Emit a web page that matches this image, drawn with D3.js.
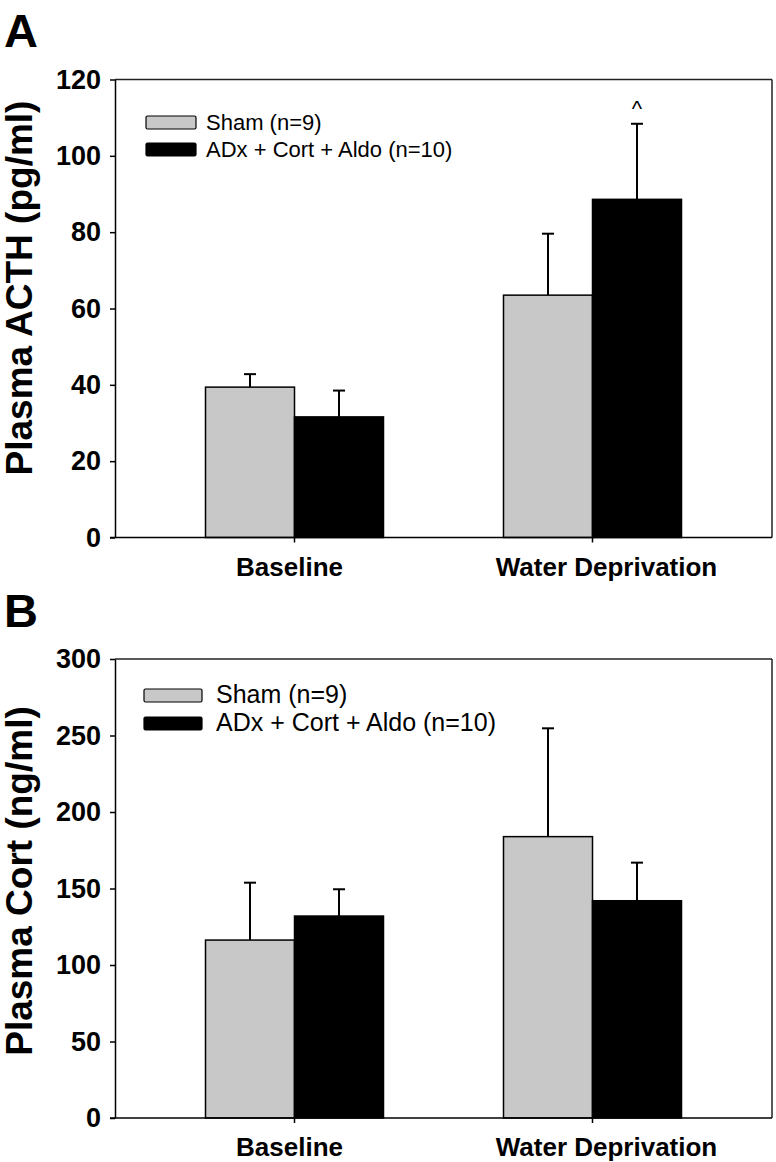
<!DOCTYPE html>
<html>
<head>
	<title>Plasma ACTH and Cort</title>
	<script src="https://d3js.org/d3.v7.min.js"></script>
	<style>
		body { margin: 0; background: white; }
		text { font-family: "Liberation Sans", Arial, sans-serif; fill: black; }
		.axis path, .axis line { stroke: black; stroke-width: 1.5; }
		.axis text { font-weight: bold; }
	</style>
</head>

<body>
<svg width="776" height="1162"></svg>

<script type="text/javascript">
var categories = ['Baseline', 'Water Deprivation'];
var seriesNames = ['Sham (n=9)', 'ADx + Cort + Aldo (n=10)'];
var seriesColors = ['#c8c8c8', '#000000'];

// panel A - ACTH
var acthSham = [39.4, 63.5];
var acthShamSem = [3.4, 16.1];
var acthAdx = [31.6, 88.6];
var acthAdxSem = [6.9, 19.8];
var acthTicks = [0, 20, 40, 60, 80, 100, 120];

// panel B - Cort
var cortSham = [116.3, 183.9];
var cortShamSem = [37.5, 70.8];
var cortAdx = [132.0, 142.0];
var cortAdxSem = [17.5, 24.9];
var cortTicks = [0, 50, 100, 150, 200, 250, 300];

// category labels sit a little off their ticks in the original
var labelShift = {'Baseline': -5, 'Water Deprivation': 14};

var svg = d3.select('svg');

function drawPanel(opt) {
	var g = svg.append('g');
	var x0 = 115, x1 = 772;

	var x = d3.scaleBand()
		.domain(categories)
		.range([x0, x1])
		.paddingInner(0.4027)
		.paddingOuter(0.3037);

	var xs = d3.scaleBand()
		.domain([0, 1])
		.range([0, x.bandwidth()]);

	var y = d3.scaleLinear()
		.domain([0, opt.max])
		.range([opt.bottom, opt.top]);

	// frame top and right
	g.append('line')
		.attr('x1', x0).attr('x2', x1)
		.attr('y1', y(opt.max)).attr('y2', y(opt.max))
		.attr('stroke', '#222').attr('stroke-width', 1.5);
	g.append('line')
		.attr('x1', x1).attr('x2', x1)
		.attr('y1', y(opt.max)).attr('y2', y(0))
		.attr('stroke', '#222').attr('stroke-width', 1.5);

	var rows = [];
	categories.forEach(function(c, i) {
		rows.push({cat: c, s: 0, v: opt.sham[i], e: opt.shamSem[i]});
		rows.push({cat: c, s: 1, v: opt.adx[i], e: opt.adxSem[i]});
	});

	// error bars (upper only)
	var eb = g.selectAll('g.err')
		.data(rows)
		.enter()
		.append('g')
		.attr('class', 'err');
	eb.append('line')
		.attr('x1', function(d) { return x(d.cat) + xs(d.s) + xs.bandwidth() / 2; })
		.attr('x2', function(d) { return x(d.cat) + xs(d.s) + xs.bandwidth() / 2; })
		.attr('y1', function(d) { return y(d.v); })
		.attr('y2', function(d) { return y(d.v + d.e); })
		.attr('stroke', 'black').attr('stroke-width', 2);
	eb.append('line')
		.attr('x1', function(d) { return x(d.cat) + xs(d.s) + xs.bandwidth() / 2 - 6; })
		.attr('x2', function(d) { return x(d.cat) + xs(d.s) + xs.bandwidth() / 2 + 6; })
		.attr('y1', function(d) { return y(d.v + d.e); })
		.attr('y2', function(d) { return y(d.v + d.e); })
		.attr('stroke', 'black').attr('stroke-width', 2);

	g.selectAll('rect.bar')
		.data(rows)
		.enter()
		.append('rect')
		.attr('class', 'bar')
		.attr('x', function(d) { return x(d.cat) + xs(d.s); })
		.attr('y', function(d) { return y(d.v); })
		.attr('width', xs.bandwidth())
		.attr('height', function(d) { return y(0) - y(d.v); })
		.attr('fill', function(d) { return seriesColors[d.s]; })
		.attr('stroke', 'black')
		.attr('stroke-width', 1.5);

	// axes
	g.append('g')
		.attr('class', 'axis')
		.attr('transform', 'translate(' + x0 + ',0)')
		.call(d3.axisLeft(y).tickValues(opt.ticks).tickSize(5).tickPadding(9).tickSizeOuter(0))
		.selectAll('text').style('font-size', '27px');

	var xa = g.append('g')
		.attr('class', 'axis')
		.attr('transform', 'translate(0,' + y(0) + ')')
		.call(d3.axisBottom(x).tickSize(5).tickPadding(15).tickSizeOuter(0));
	xa.select('.domain').attr('d', 'M' + (x0 - 5) + ',0H' + x1);
	xa.selectAll('text')
		.style('font-size', '26px')
		.attr('dx', function(d) { return labelShift[d]; });

	// y title
	g.append('text')
		.attr('transform', 'translate(' + opt.titleX + ',' + opt.titleY + ') rotate(-90)')
		.attr('text-anchor', 'middle')
		.style('font-size', '37px')
		.style('font-weight', 'bold')
		.text(opt.title);

	// panel letter
	g.append('text')
		.attr('x', 4)
		.attr('y', opt.letterY)
		.style('font-size', '47px')
		.style('font-weight', 'bold')
		.text(opt.letter);

	// legend
	var lg = g.selectAll('g.leg')
		.data(seriesNames)
		.enter()
		.append('g')
		.attr('class', 'leg')
		.attr('transform', function(d, i) {
			return 'translate(' + opt.legX + ',' + (opt.legY + i * opt.legStep) + ')';
		});
	lg.append('rect')
		.attr('width', opt.swW)
		.attr('height', 13)
		.attr('rx', 1.5)
		.attr('fill', function(d, i) { return seriesColors[i]; })
		.attr('stroke', 'black')
		.attr('stroke-width', 1.2);
	lg.append('text')
		.attr('x', opt.swW + opt.legGap)
		.attr('y', 14)
		.style('font-size', opt.legFont + 'px')
		.text(function(d) { return d; });

	if (opt.mark) {
		var i = categories.indexOf(opt.mark.cat);
		g.append('text')
			.attr('x', x(opt.mark.cat) + xs(1) + xs.bandwidth() / 2)
			.attr('y', y(opt.adx[i] + opt.adxSem[i]) - 8)
			.attr('text-anchor', 'middle')
			.style('font-size', '22px')
			.text(opt.mark.text);
	}
}

drawPanel({
	letter: 'A', letterY: 47,
	title: 'Plasma ACTH (pg/ml)', titleX: 32, titleY: 288,
	max: 120, ticks: acthTicks, top: 79.5, bottom: 537.5,
	sham: acthSham, shamSem: acthShamSem, adx: acthAdx, adxSem: acthAdxSem,
	legX: 146, legY: 116, legStep: 27, swW: 50, legGap: 10, legFont: 22,
	mark: {cat: 'Water Deprivation', text: '^'}
});

drawPanel({
	letter: 'B', letterY: 627,
	title: 'Plasma Cort (ng/ml)', titleX: 32, titleY: 881,
	max: 300, ticks: cortTicks, top: 659, bottom: 1118,
	sham: cortSham, shamSem: cortShamSem, adx: cortAdx, adxSem: cortAdxSem,
	legX: 144, legY: 689, legStep: 28, swW: 58, legGap: 14, legFont: 25
});
</script>

</body>
</html>
